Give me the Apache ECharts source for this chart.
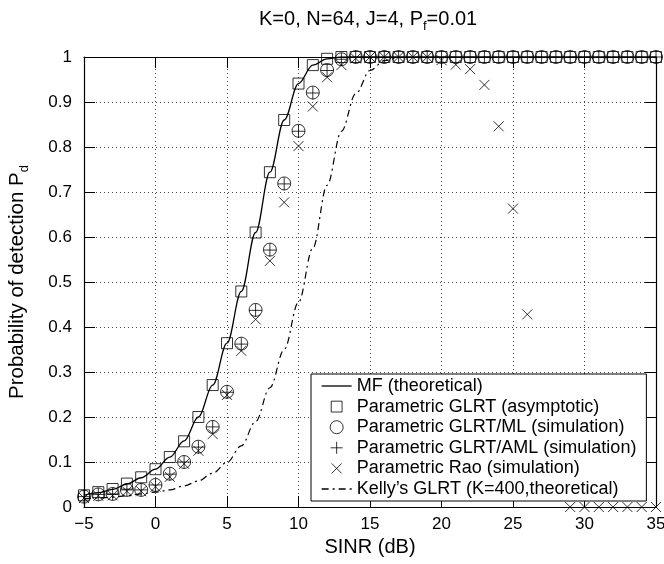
<!DOCTYPE html>
<html><head><meta charset="utf-8">
<script src="https://cdn.jsdelivr.net/npm/echarts@6.0.0/dist/echarts.min.js"></script>
<style>html,body{margin:0;padding:0;background:#fff}#c{width:664px;height:564px}</style>
</head><body><div id="c"></div>
<script>
// SINR axis (dB)
const sinr = [-5,-4,-3,-2,-1,0,1,2,3,4,5,6,7,8,9,10,11,12,13,14,15,16,17,18,19,20,21,22,23,24,25,26,27,28,29,30,31,32,33,34,35];
// MF (theoretical) curve
const mfTheory = [0.026,0.032,0.039,0.051,0.065,0.084,0.111,0.147,0.2,0.271,0.364,0.479,0.61,0.744,0.86,0.941,0.982,0.996,1,1,1,1,1,1,1,1,1,1,1,1,1,1,1,1,1,1,1,1,1,1,1];
// Parametric GLRT (asymptotic) - squares
const glrtAsym = [0.026,0.033,0.04,0.052,0.066,0.084,0.111,0.146,0.2,0.271,0.364,0.479,0.61,0.744,0.86,0.941,0.982,0.996,1,1,1,1,1,1,1,1,1,1,1,1,1,1,1,1,1,1,1,1,1,1,1];
// Parametric GLRT/ML (simulation) - circles
const glrtML = [0.023,0.028,0.029,0.038,0.038,0.049,0.074,0.1,0.134,0.178,0.256,0.363,0.438,0.572,0.719,0.836,0.921,0.971,0.995,1,1,1,1,1,1,1,1,1,1,1,1,1,1,1,1,1,1,1,1,1,1];
// Parametric GLRT/AML (simulation) - plus
const glrtAML = [0.023,0.028,0.029,0.038,0.038,0.049,0.073,0.1,0.133,0.178,0.255,0.362,0.437,0.571,0.718,0.835,0.92,0.97,0.995,1,1,1,1,1,1,1,1,1,1,1,1,1,1,1,1,1,1,1,1,1,1];
// Parametric Rao (simulation) - x
const rao = [0.02,0.025,0.026,0.035,0.035,0.045,0.067,0.096,0.125,0.162,0.249,0.347,0.417,0.547,0.677,0.802,0.89,0.955,0.982,0.997,1,1,1,1,1,0.993,0.983,0.973,0.938,0.846,0.663,0.428,0.2,0.06,0,0,0,0,0,0,0];
// Kelly's GLRT (K=400, theoretical)
const kelly = [0.018,0.02,0.022,0.025,0.029,0.033,0.038,0.047,0.058,0.075,0.099,0.136,0.19,0.265,0.35,0.455,0.575,0.715,0.835,0.918,0.97,0.992,0.999,1,1,1,1,1,1,1,1,1,1,1,1,1,1,1,1,1,1];
const xTicks = [-5,0,5,10,15,20,25,30,35];
const yTicks = [0,0.1,0.2,0.3,0.4,0.5,0.6,0.7,0.8,0.9,1];
const legendNames = ['MF (theoretical)','Parametric GLRT (asymptotic)','Parametric GLRT/ML (simulation)','Parametric GLRT/AML (simulation)','Parametric Rao (simulation)',"Kelly\u2019s GLRT (K=400,theoretical)"];

const FONT = '"Liberation Sans", Arial, Helvetica, sans-serif';
const pts = arr => sinr.map((x,i)=>[x, arr[i]]);
const SQUARE = 'path://M-1,-1 M11,11 M0,0 L10,0 L10,10 L0,10 Z';
const PLUS = 'path://M-0.4,-0.4 M10.4,10.4 M5,0 L5,10 M0,5 L10,5';
const CROSS = 'path://M-1.5,-1.5 M11.5,11.5 M0,0 L10,10 M10,0 L0,10';
const hollow = {color:'rgba(0,0,0,0)', borderColor:'#000', borderWidth:1};

const chart = echarts.init(document.getElementById('c'), null, {renderer:'canvas'});
const axisCommon = {
  type:'value',
  axisLine:{show:true, onZero:false, lineStyle:{color:'#000', width:1.2}},
  axisTick:{show:true, inside:true, length:11, lineStyle:{color:'#000', width:1}},
};
chart.setOption({
  animation:false,
  backgroundColor:'#fff',
  textStyle:{fontFamily:FONT},
  grid:{left:84, right:8, top:57, bottom:57, containLabel:false, outerBoundsMode:'none'},
  title:{
    text:'K=0, N=64, J=4, P{s|f}=0.01', left:259, top:8, padding:0,
    textStyle:{fontSize:20, fontWeight:'normal', color:'#000', fontFamily:FONT, lineHeight:22,
      rich:{s:{fontSize:13, fontFamily:FONT, color:'#000', padding:[14,0,0,0], lineHeight:13}}}
  },
  xAxis:[
    Object.assign({}, axisCommon, {min:-5, max:35, interval:5, position:'bottom',
      name:'SINR (dB)', nameLocation:'middle', nameGap:30,
      nameTextStyle:{fontSize:20, color:'#000', fontFamily:FONT},
      axisLabel:{fontSize:17, color:'#000', margin:9, fontFamily:FONT,
        formatter: v => (v<0 ? '\u2212'+Math.abs(v) : String(v))},
      splitLine:{show:true, lineStyle:{color:'#444', type:[1,3], width:1}}}),
    Object.assign({}, axisCommon, {min:-5, max:35, interval:5, position:'top',
      axisLabel:{show:false}, splitLine:{show:false}})
  ],
  yAxis:[
    Object.assign({}, axisCommon, {min:0, max:1, interval:0.1, position:'left',
      name:'Probability of detection P{s|d}', nameLocation:'middle', nameGap:56,
      nameTextStyle:{fontSize:20.5, color:'#000', fontFamily:FONT,
        rich:{s:{fontSize:13, fontFamily:FONT, color:'#000', padding:[14,0,0,0], lineHeight:13}}},
      axisLabel:{fontSize:17, color:'#000', margin:12, fontFamily:FONT,
        formatter: v => String(Math.round(v*10)/10)},
      splitLine:{show:true, lineStyle:{color:'#444', type:[1,3], width:1}}}),
    Object.assign({}, axisCommon, {min:0, max:1, interval:0.1, position:'right',
      axisLabel:{show:false}, splitLine:{show:false}})
  ],
  legend:{
    orient:'vertical', left:311, top:374,
    data:legendNames,
    backgroundColor:'#fff', borderColor:'#000', borderWidth:1, borderRadius:0,
    padding:[3,10,3,10], itemGap:2.6, itemWidth:30, itemHeight:13, itemTextGap:10,
    selectedMode:false,
    itemStyle:{borderWidth:1},
    lineStyle:{width:1.3},
    textStyle:{fontSize:18, color:'#000', fontFamily:FONT, lineHeight:18},
    z:10
  },
  series:[
    {name:legendNames[0], type:'line', data:pts(mfTheory), symbol:'none', smooth:0.35, smoothMonotone:'x',
     lineStyle:{color:'#000', width:1.3}, itemStyle:{color:'rgba(0,0,0,0)'}, z:3},
    {name:legendNames[1], type:'scatter', data:pts(glrtAsym), symbol:SQUARE, symbolSize:13.2, itemStyle:hollow, z:4},
    {name:legendNames[2], type:'scatter', data:pts(glrtML), symbol:'circle', symbolSize:13, itemStyle:hollow, z:4},
    {name:legendNames[3], type:'scatter', data:pts(glrtAML), symbol:PLUS, symbolSize:14, itemStyle:hollow, z:4},
    {name:legendNames[4], type:'scatter', data:pts(rao), symbol:CROSS, symbolSize:13, itemStyle:hollow, z:4},
    {name:legendNames[5], type:'line', data:pts(kelly), symbol:'none', smooth:0.35, smoothMonotone:'x',
     lineStyle:{color:'#000', width:1.2, type:[7,4,2,4]}, itemStyle:{color:'rgba(0,0,0,0)'}, z:3}
  ]
});
</script>
</body></html>
